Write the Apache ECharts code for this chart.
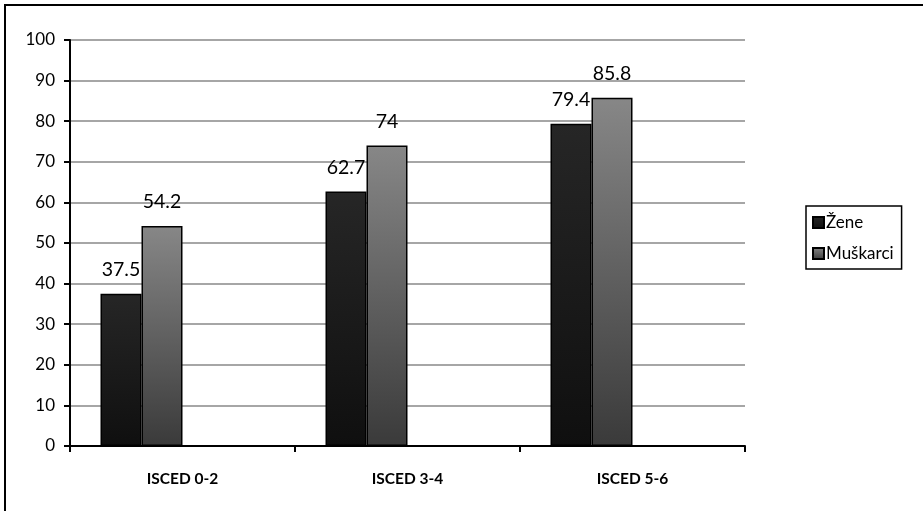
<!DOCTYPE html>
<html><head><meta charset="utf-8">
<script src="https://cdn.jsdelivr.net/npm/echarts@6/dist/echarts.min.js"></script>
<style>html,body{margin:0;padding:0;background:#fff}#c{width:923px;height:511px}</style>
</head><body><div id="c"></div>
<script>
const categories = ['ISCED 0-2', 'ISCED 3-4', 'ISCED 5-6'];
const seriesNames = ['Žene', 'Muškarci'];
const zene = [37.5, 62.7, 79.4];
const muskarci = [54.2, 74, 85.8];
const yTicks = [0, 10, 20, 30, 40, 50, 60, 70, 80, 90, 100];

const font = 'Lato, "Open Sans", sans-serif';
const chart = echarts.init(document.getElementById('c'));
function grad(top, bottom) {
  return new echarts.graphic.LinearGradient(0, 0, 0, 1, [{offset: 0, color: top}, {offset: 1, color: bottom}]);
}
const labelCfg = {show: true, position: 'top', distance: 14, color: '#000', fontSize: 19.5, fontFamily: font};
chart.setOption({
  animation: false,
  backgroundColor: '#fff',
  grid: {left: 70, right: 178, top: 40, bottom: 65, containLabel: false},
  legend: {
    data: seriesNames, orient: 'vertical', left: 806, top: 206,
    itemWidth: 11, itemHeight: 11, itemGap: 14, padding: [8, 8, 7, 6],
    borderColor: '#000', borderWidth: 1.5,
    textStyle: {fontSize: 17, fontFamily: font, color: '#000', padding: [0, 0, 0, -3]},
    icon: 'rect'
  },
  xAxis: {
    type: 'category', data: categories,
    axisLine: {lineStyle: {color: '#000', width: 2}},
    axisTick: {show: true, length: 6, lineStyle: {color: '#000', width: 2}},
    axisLabel: {fontSize: 15.5, fontWeight: 'bold', fontFamily: font, color: '#000', margin: 25}
  },
  yAxis: {
    type: 'value', min: yTicks[0], max: yTicks[yTicks.length - 1], interval: 10,
    axisLine: {show: true, lineStyle: {color: '#000', width: 2}},
    axisTick: {show: true, length: 6, lineStyle: {color: '#000', width: 2}},
    axisLabel: {fontSize: 17, fontFamily: font, color: '#000', margin: 15},
    splitLine: {lineStyle: {color: '#a6a6a6', width: 2}}
  },
  series: [
    {name: seriesNames[0], type: 'bar', data: zene, barWidth: 41, barGap: '0%',
     itemStyle: {color: grad('#262626', '#0f0f0f'), borderColor: '#000', borderWidth: 1.5},
     label: labelCfg},
    {name: seriesNames[1], type: 'bar', data: muskarci, barWidth: 41, barGap: '0%',
     itemStyle: {color: grad('#878787', '#3a3a3a'), borderColor: '#000', borderWidth: 1.5},
     label: labelCfg},
    {name: 'pad1', type: 'bar', data: [null, null, null], barWidth: 41, barGap: '0%'},
    {name: 'pad2', type: 'bar', data: [null, null, null], barWidth: 41, barGap: '0%'}
  ],
  graphic: [{type: 'rect', shape: {x: 5, y: 5, width: 930, height: 520}, style: {fill: 'none', stroke: '#000', lineWidth: 2}, silent: true}]
});
</script></body></html>
